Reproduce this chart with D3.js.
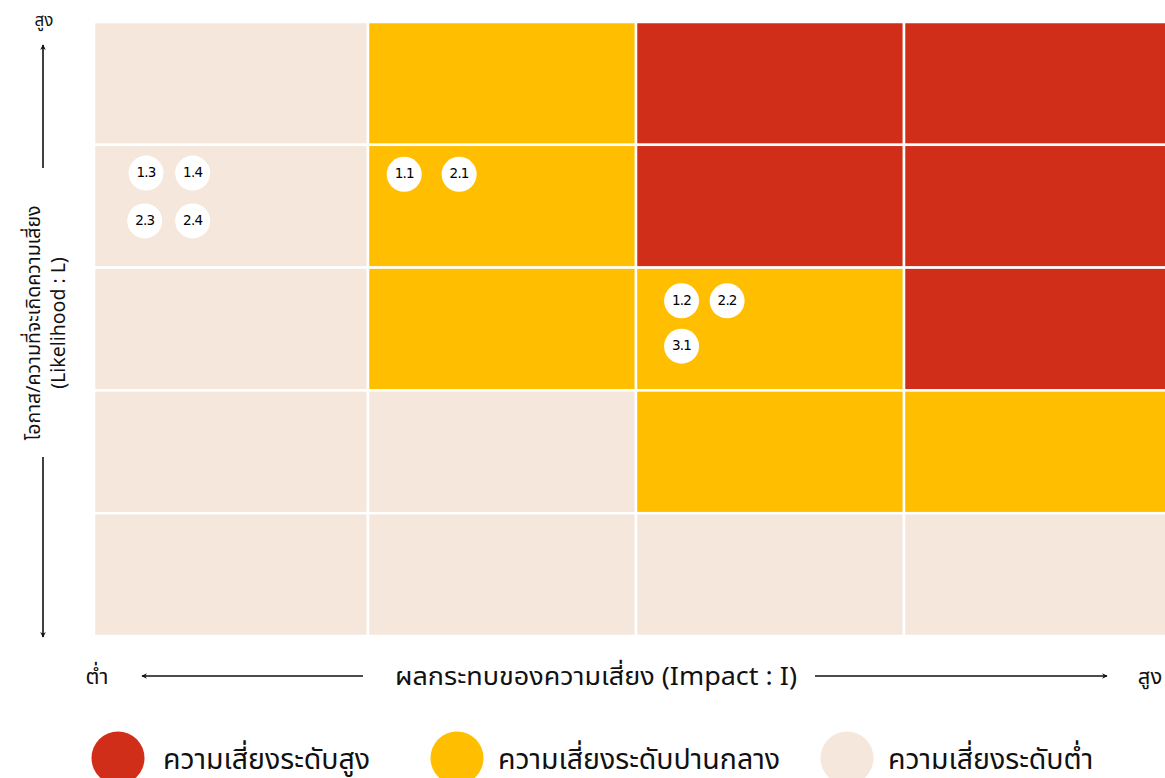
<!DOCTYPE html>
<html>
<head>
<meta charset="utf-8">
<script src="https://cdn.jsdelivr.net/npm/d3@7"></script>
<style>
  html, body { margin: 0; padding: 0; background: #fff; }
  svg { display: block; }
  text { font-family: "Noto Sans Thai", "Noto Sans Thai UI", "Noto Sans", "DejaVu Sans", sans-serif; fill: #111; }
</style>
</head>
<body>
<svg id="chart" width="1165" height="778"></svg>
<script>
// Impact columns (low → high) and likelihood rows (low → high)
const impactLevels = [1, 2, 3, 4];
const likelihoodLevels = [1, 2, 3, 4, 5];

// Risk level per cell: rows listed from likelihood 5 down to 1, columns impact 1..4
const riskGrid = [
  ["low", "medium", "high",   "high"],
  ["low", "medium", "high",   "high"],
  ["low", "medium", "medium", "high"],
  ["low", "low",    "medium", "medium"],
  ["low", "low",    "low",    "low"]
];

// Risk items positioned by impact (0–4) and likelihood (0–5) scores
const riskIds         = ["1.3", "1.4", "2.3", "2.4", "1.1", "2.1", "1.2", "2.2", "3.1"];
const riskImpact      = [0.19, 0.36, 0.185, 0.36, 1.135, 1.34, 2.17, 2.34, 2.17];
const riskLikelihood  = [3.77, 3.77, 3.38, 3.38, 3.76, 3.76, 2.73, 2.73, 2.36];

// Legend
const legendKeys   = ["high", "medium", "low"];
const legendLabels = ["ความเสี่ยงระดับสูง", "ความเสี่ยงระดับปานกลาง", "ความเสี่ยงระดับต่ำ"];

const colors = { high: "#D12E19", medium: "#FFBE00", low: "#F5E7DB" };

const svg = d3.select("#chart");

// Scales: first impact column is slightly wider than the others
const x = d3.scaleLinear().domain([0, 1, 4]).range([94, 368, 1172]);
const y = d3.scaleLinear().domain([0, 5]).range([636, 22]);

// Matrix cells
const cells = [];
riskGrid.forEach((row, ri) => {
  const lik = likelihoodLevels[likelihoodLevels.length - 1 - ri];
  row.forEach((level, ci) => {
    cells.push({ impact: impactLevels[ci], likelihood: lik, level });
  });
});

svg.append("g").selectAll("rect")
  .data(cells)
  .join("rect")
  .attr("x", d => x(d.impact - 1))
  .attr("y", d => y(d.likelihood))
  .attr("width", d => x(d.impact) - x(d.impact - 1))
  .attr("height", d => y(d.likelihood - 1) - y(d.likelihood))
  .attr("fill", d => colors[d.level])
  .attr("stroke", "#fff")
  .attr("stroke-width", 2.5);

// Risk markers
const items = riskIds.map((id, i) => ({ id, impact: riskImpact[i], likelihood: riskLikelihood[i] }));
const markers = svg.append("g").selectAll("g")
  .data(items)
  .join("g")
  .attr("transform", d => `translate(${x(d.impact)},${y(d.likelihood)})`);
markers.append("circle").attr("r", 17.5).attr("fill", "#fff");
markers.append("text")
  .attr("text-anchor", "middle")
  .attr("dy", "0.3em")
  .attr("font-size", 13.5)
  .attr("letter-spacing", -0.8)
  .style("font-family", "Tahoma, 'DejaVu Sans', sans-serif")
  .style("fill", "#000")
  .text(d => d.id);

// Arrow marker
const defs = svg.append("defs");
defs.append("marker")
  .attr("id", "arrow")
  .attr("viewBox", "0 0 10 10")
  .attr("refX", 8).attr("refY", 5)
  .attr("markerWidth", 7).attr("markerHeight", 7)
  .attr("markerUnits", "userSpaceOnUse")
  .attr("orient", "auto")
  .append("path")
  .attr("d", "M1,1 L9,5 L1,9 L3.5,5 Z")
  .attr("fill", "#111");

const arrow = (x1, y1, x2, y2) => svg.append("line")
  .attr("x1", x1).attr("y1", y1).attr("x2", x2).attr("y2", y2)
  .attr("stroke", "#111").attr("stroke-width", 1.6)
  .attr("marker-end", "url(#arrow)");

// Likelihood axis (vertical)
arrow(43, 168, 43, 45);
arrow(43, 457, 43, 637);
svg.append("text").attr("x", 44).attr("y", 26).attr("text-anchor", "middle")
  .attr("font-size", 17).text("สูง");
const yLabel = svg.append("text")
  .attr("transform", "translate(40,323) rotate(-90)")
  .attr("text-anchor", "middle")
  .attr("font-size", 19.5);
yLabel.append("tspan").attr("x", 0).attr("dy", 0).text("โอกาส/ความที่จะเกิดความเสี่ยง");
yLabel.append("tspan").attr("x", 0).attr("dy", 25).text("(Likelihood : L)");

// Impact axis (horizontal)
arrow(363, 676, 142, 676);
arrow(815, 676, 1107, 676);
svg.append("text").attr("x", 97).attr("y", 684).attr("text-anchor", "middle")
  .attr("font-size", 22).text("ต่ำ");
svg.append("text").attr("x", 1150).attr("y", 684).attr("text-anchor", "middle")
  .attr("font-size", 22).text("สูง");
svg.append("text").attr("x", 596).attr("y", 685).attr("text-anchor", "middle")
  .attr("font-size", 25)
  .attr("textLength", 402).attr("lengthAdjust", "spacingAndGlyphs")
  .text("ผลกระทบของความเสี่ยง (Impact : I)");

// Legend
const legendX = [118, 457, 847];
const legendTextX = [163, 498, 888];
const legend = svg.append("g").selectAll("g")
  .data(legendKeys)
  .join("g")
  .attr("transform", (d, i) => `translate(${legendX[i]},758)`);
legend.append("circle").attr("r", 26.5).attr("fill", d => colors[d]);
legend.append("text")
  .attr("x", (d, i) => legendTextX[i] - legendX[i]).attr("y", 11)
  .attr("font-size", 28.5)
  .text((d, i) => legendLabels[i]);
</script>
</body>
</html>
